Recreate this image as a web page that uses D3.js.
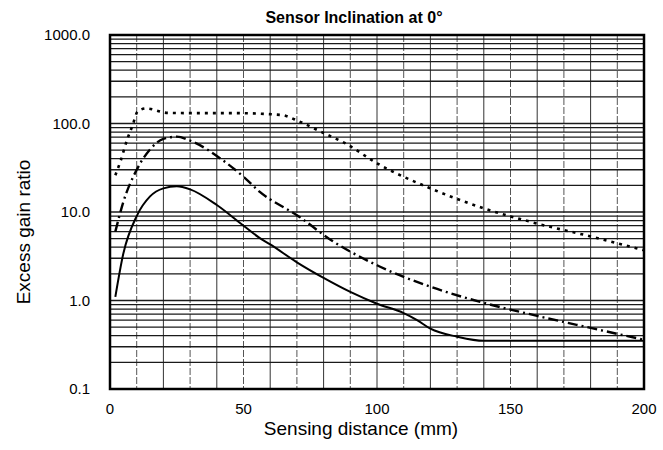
<!DOCTYPE html>
<html>
<head>
<meta charset="utf-8">
<script src="https://cdn.jsdelivr.net/npm/d3@7"></script>
<style>
  body { margin: 0; background: #fff; }
  svg text { font-family: "Liberation Sans", Arial, Helvetica, sans-serif; fill: #000; }
</style>
</head>
<body>
<svg id="chart" width="663" height="450"></svg>
<script>
// distances (mm) and excess gain ratio
const solidX = [2, 5, 10, 15, 20, 25, 30, 40, 50, 56, 60, 70, 80, 90, 100, 110, 115, 120, 130, 140, 160, 180, 200];
const solidY = [1.1, 3.4, 9, 15, 18.5, 19.5, 18, 12, 7, 5.1, 4.3, 2.7, 1.8, 1.25, 0.92, 0.72, 0.6, 0.48, 0.39, 0.35, 0.35, 0.35, 0.35];

const dashX = [2, 5, 10, 15, 20, 25, 30, 43, 50, 56, 71, 82, 100, 120, 140, 160, 180, 200];
const dashY = [6, 13, 30, 51, 67, 71, 64, 37, 25, 17, 8.8, 5, 2.5, 1.43, 0.94, 0.67, 0.49, 0.36];

const dotX = [2, 4, 6.5, 8.5, 10.3, 13.5, 21.5, 30, 46.5, 64, 71, 80, 88, 100, 120, 140, 160, 180, 200];
const dotY = [26, 38, 67, 96, 136, 148, 132, 131, 131, 125, 105, 78, 60, 35.5, 18.5, 11, 7.4, 5.3, 3.7];

const xTicks = [0, 50, 100, 150, 200];
const yTicks = [0.1, 1, 10, 100, 1000];
const yTickLabels = ["0.1", "1.0", "10.0", "100.0", "1000.0"];

const chartTitle = "Sensor Inclination at 0\u00B0";
const xTitle = "Sensing distance (mm)";
const yTitle = "Excess gain ratio";

const margin = { left: 110, right: 19, top: 35, bottom: 61 };
const W = 663, H = 450;

const svg = d3.select("#chart");

const x = d3.scaleLinear().domain([0, 200]).range([margin.left, W - margin.right]);
const y = d3.scaleLog().domain([0.1, 1000]).range([H - margin.bottom, margin.top]);

// grid: vertical every 10 mm
const grid = svg.append("g").attr("class", "grid");
grid.selectAll(".vline")
  .data(d3.range(10, 200, 10))
  .join("line")
  .attr("x1", d => x(d)).attr("x2", d => x(d))
  .attr("y1", y(1000)).attr("y2", y(0.1))
  .attr("stroke", d => (d % 20 === 0 ? "#333" : "#555"))
  .attr("stroke-width", 1)
  .attr("stroke-dasharray", d => (d % 20 === 0 ? null : "7,2"));

// grid: horizontal at log minor ticks
const hVals = y.ticks().filter(v => v > 0.1 && v < 1000);
grid.selectAll(".hline")
  .data(hVals)
  .join("line")
  .attr("x1", x(0)).attr("x2", x(200))
  .attr("y1", d => y(d)).attr("y2", d => y(d))
  .attr("stroke", "#1a1a1a")
  .attr("stroke-width", 1.3);

// curves
const line = d3.line()
  .x(d => x(d[0]))
  .y(d => y(d[1]))
  .curve(d3.curveMonotoneX);

const series = [
  { xs: solidX, ys: solidY, dash: null, w: 2 },
  { xs: dashX, ys: dashY, dash: "10,4,2,4", w: 2.4 },
  { xs: dotX, ys: dotY, dash: "3,5", w: 2.6 }
];

svg.selectAll(".curve")
  .data(series)
  .join("path")
  .attr("class", "curve")
  .attr("fill", "none")
  .attr("stroke", "#000")
  .attr("stroke-width", d => d.w)
  .attr("stroke-dasharray", d => d.dash)
  .attr("d", d => line(d.xs.map((v, i) => [v, d.ys[i]])));

// frame
svg.append("rect")
  .attr("x", x(0)).attr("y", y(1000))
  .attr("width", x(200) - x(0)).attr("height", y(0.1) - y(1000))
  .attr("fill", "none")
  .attr("stroke", "#000")
  .attr("stroke-width", 2.5);

// tick labels
svg.append("g")
  .selectAll("text")
  .data(xTicks)
  .join("text")
  .attr("x", d => x(d))
  .attr("y", H - margin.bottom + 25)
  .attr("text-anchor", "middle")
  .style("font-size", "15px")
  .text(d => d);

svg.append("g")
  .selectAll("text")
  .data(yTicks)
  .join("text")
  .attr("x", 90)
  .attr("y", d => y(d) + 5)
  .attr("text-anchor", "end")
  .style("font-size", "15px")
  .text((d, i) => yTickLabels[i]);

// titles
svg.append("text")
  .attr("x", 354).attr("y", 23)
  .attr("text-anchor", "middle")
  .style("font-size", "16px")
  .style("font-weight", "bold")
  .text(chartTitle);

svg.append("text")
  .attr("x", 361).attr("y", 435)
  .attr("text-anchor", "middle")
  .style("font-size", "19px")
  .text(xTitle);

svg.append("text")
  .attr("transform", `translate(30,232) rotate(-90)`)
  .attr("text-anchor", "middle")
  .style("font-size", "19px")
  .text(yTitle);
</script>
</body>
</html>
